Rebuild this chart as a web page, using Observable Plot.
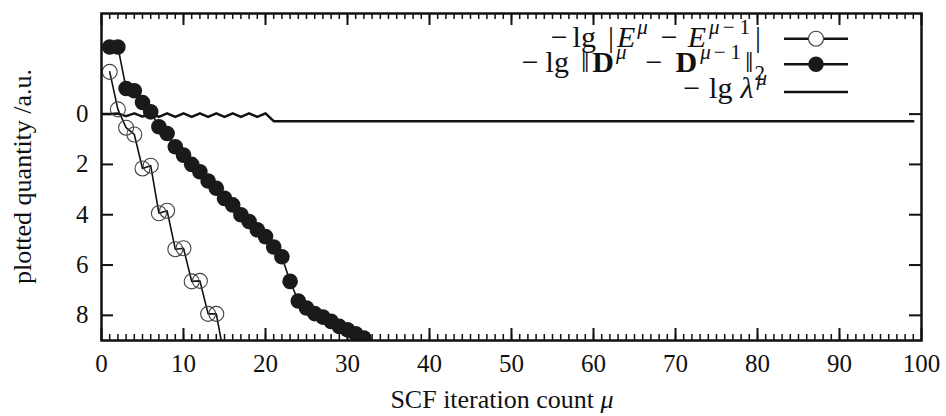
<!DOCTYPE html>
<html>
<head>
<meta charset="utf-8">
<script src="https://cdn.jsdelivr.net/npm/d3@7"></script>
<script src="https://cdn.jsdelivr.net/npm/@observablehq/plot@0.6"></script>
<style>
  html, body { margin: 0; padding: 0; background: #fff; }
  #chart { width: 946px; height: 416px; }
</style>
</head>
<body>
<div id="chart"></div>
<script>
// ---- data ----
const eIter = [1,2,3,4,5,6,7,8,9,10,11,12,13,14,15];
const eVals = [-1.68,-0.19,0.54,0.81,2.16,2.05,3.94,3.84,5.37,5.33,6.65,6.63,7.94,7.94,9.7];

const dIter = [1,2,3,4,5,6,7,8,9,10,11,12,13,14,15,16,17,18,19,20,21,22,23,24,25,26,27,28,29,30,31,32];
const dVals = [-2.67,-2.67,-1.02,-0.93,-0.46,-0.09,0.50,0.77,1.30,1.63,2.00,2.29,2.66,2.95,3.35,3.61,4.00,4.27,4.60,4.87,5.28,5.67,6.65,7.43,7.71,7.93,8.07,8.24,8.44,8.57,8.73,8.90];

const lIter = [0,1,2,3,4,5,6,7,8,9,10,11,12,13,14,15,16,17,18,19,20,21,99];
const lVals = [0,0,-0.02,0.08,-0.03,0.10,-0.03,0.11,-0.03,0.11,-0.03,0.11,-0.03,0.11,-0.03,0.11,-0.03,0.11,-0.03,0.11,-0.03,0.28,0.28];

const xTickLabels = [0,10,20,30,40,50,60,70,80,90,100];
const xMinorTicks = d3.range(1, 100);
const yTickLabels = [0,2,4,6,8];

const xLabel = "SCF iteration count ";
const yLabel = "plotted quantity /a.u.";

// ---- tables ----
const eData = eIter.map((x, i) => ({x, y: eVals[i]}));
const dData = dIter.map((x, i) => ({x, y: dVals[i]}));
const lData = lIter.map((x, i) => ({x, y: lVals[i]}));

const W = 946, H = 416;
const mL = 101, mR = 25, mT = 13, mB = 76;
const pw = W - mL - mR, ph = H - mT - mB;
const FONT = "Liberation Serif, Times New Roman, serif";
const FS = 25;

function draw() {
  const svg = Plot.plot({
    width: W, height: H,
    marginLeft: mL, marginRight: mR, marginTop: mT, marginBottom: mB,
    style: {fontFamily: FONT, fontSize: FS + "px", color: "#111", background: "#fff"},
    x: {domain: [0, 100]},
    y: {domain: [-4, 9], reverse: true},
    marks: [
      Plot.ruleX(xMinorTicks, {x: d => d, insetTop: ph - 6, stroke: "#111", strokeWidth: 1.5}),
      Plot.ruleX(xMinorTicks, {x: d => d, insetBottom: ph - 6, stroke: "#111", strokeWidth: 1.5}),
      Plot.ruleX(xTickLabels, {x: d => d, insetTop: ph - 12, stroke: "#111", strokeWidth: 2}),
      Plot.ruleX(xTickLabels, {x: d => d, insetBottom: ph - 12, stroke: "#111", strokeWidth: 2}),
      Plot.ruleY(yTickLabels, {y: d => d, insetRight: pw - 12, stroke: "#111", strokeWidth: 2}),
      Plot.ruleY(yTickLabels, {y: d => d, insetLeft: pw - 12, stroke: "#111", strokeWidth: 2}),
      Plot.axisX(xTickLabels, {tickSize: 0, tickPadding: 14, label: null, fontSize: FS}),
      Plot.axisY(yTickLabels, {tickSize: 0, tickPadding: 13, label: null, fontSize: FS}),
      Plot.line(lData, {x: "x", y: "y", stroke: "#111", strokeWidth: 2.5, clip: true}),
      Plot.line(eData, {x: "x", y: "y", stroke: "#111", strokeWidth: 1.6, clip: true}),
      Plot.dot(eData, {x: "x", y: "y", r: 7.5, stroke: "#444", strokeWidth: 1.1, fill: "none", clip: true}),
      Plot.line(dData, {x: "x", y: "y", stroke: "#111", strokeWidth: 1.6, clip: true}),
      Plot.dot(dData, {x: "x", y: "y", r: 7.8, fill: "#1a1a1a", stroke: "none", clip: true}),
      Plot.frame({stroke: "#111", strokeWidth: 2.5})
    ]
  });

  const s = d3.select(svg).attr("font-family", FONT);

  // axis titles
  const xt = s.append("text")
    .attr("x", 502).attr("y", 408).attr("text-anchor", "middle")
    .attr("font-size", 26).attr("fill", "#111");
  xt.append("tspan").text(xLabel);
  xt.append("tspan").attr("font-style", "italic").text("μ");

  s.append("text")
    .attr("transform", `translate(31,${mT + ph / 2}) rotate(-90)`)
    .attr("text-anchor", "middle").attr("font-size", 26).attr("fill", "#111")
    .text(yLabel);

  // legend
  const LFS = 30, SFS = 21;
  const rows = [
    {base: 47, ly: 38.7, right: 761, marker: "open", parts: [
      ["−", {}], ["lg", {gap: 5}], ["|", {gap: 12}], ["E", {it: 1, gap: 3}], ["μ", {it: 1, sup: 1, gap: 2}],
      ["−", {gap: 13}], ["E", {it: 1, gap: 10}], ["μ", {it: 1, sup: 1, gap: 3}], ["−", {sup: 1, gap: 3}],
      ["1", {sup: 1, gap: 5}], ["|", {gap: 5}]
    ]},
    {base: 72, ly: 64.2, right: 765, marker: "filled", parts: [
      ["−", {}], ["lg", {gap: 7}], ["‖", {gap: 12}], ["D", {bold: 1, gap: 3}], ["μ", {it: 1, sup: 1, gap: 2}],
      ["−", {gap: 19}], ["D", {bold: 1, gap: 13}], ["μ", {it: 1, sup: 1, gap: 3}], ["−", {sup: 1, gap: 3}],
      ["1", {sup: 1, gap: 5}], ["‖", {gap: 4}], ["2", {sub: 1, gap: 1}]
    ]},
    {base: 98, ly: 92, right: 767, marker: "none", parts: [
      ["−", {}], ["lg", {gap: 9}], ["λ", {it: 1, gap: 8}], ["μ", {it: 1, sup: 1, gap: 3}]
    ]}
  ];
  const lg = s.append("g");
  rows.forEach(r => {
    const t = lg.append("text").attr("x", r.right).attr("y", r.base)
      .attr("text-anchor", "end").attr("font-size", LFS).attr("fill", "#111");
    let shift = 0;
    r.parts.forEach(([str, o]) => {
      const sp = t.append("tspan").text(str);
      let target = 0;
      if (o.sup) { target = -13; sp.attr("font-size", SFS); }
      if (o.sub) { target = 8; sp.attr("font-size", SFS); }
      if (o.it) sp.attr("font-style", "italic");
      if (o.bold) sp.attr("font-weight", "bold");
      if (o.gap) sp.attr("dx", o.gap);
      if (target !== shift) { sp.attr("dy", target - shift); shift = target; }
    });
    lg.append("line").attr("x1", 784).attr("x2", 848).attr("y1", r.ly).attr("y2", r.ly)
      .attr("stroke", "#111").attr("stroke-width", 2.5);
    if (r.marker === "open")
      lg.append("circle").attr("cx", 816).attr("cy", r.ly).attr("r", 7.5)
        .attr("fill", "#fff").attr("stroke", "#444").attr("stroke-width", 1.1);
    if (r.marker === "filled")
      lg.append("circle").attr("cx", 816).attr("cy", r.ly).attr("r", 7.8).attr("fill", "#1a1a1a");
  });

  s.selectAll("text").attr("font-family", FONT).style("font-family", FONT);

  document.getElementById("chart").replaceChildren(svg);
}

draw();
Promise.all([
  document.fonts.load("25px 'Liberation Serif'"),
  document.fonts.load("italic 25px 'Liberation Serif'"),
  document.fonts.load("bold 25px 'Liberation Serif'")
]).then(draw, draw);
</script>
</body>
</html>
